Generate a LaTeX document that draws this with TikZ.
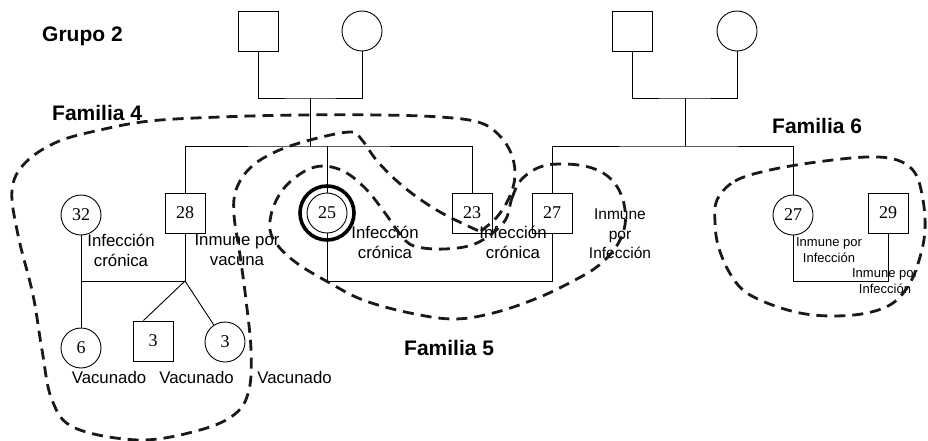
\documentclass[tikz,border=0pt]{standalone}
\usepackage{fontspec}
\setmainfont{Liberation Sans}
\newfontfamily\numfont{Liberation Serif}
\begin{document}
\begin{tikzpicture}[x=1pt,y={(0pt,-1pt)},
  sq/.style={draw, line width=0.9pt, minimum size=40pt, inner sep=0pt, font=\numfont\fontsize{18}{18}\selectfont},
  ci/.style={draw, circle, line width=0.9pt, minimum size=40pt, inner sep=0pt, font=\numfont\fontsize{18}{18}\selectfont},
  ring/.style={draw, circle, line width=3.6pt, minimum size=54pt, inner sep=0pt},
  lbl/.style={align=center, inner sep=0pt, font=\fontsize{16.8}{20}\selectfont},
  mlbl/.style={align=center, inner sep=0pt, font=\fontsize{15.5}{19.5}\selectfont},
  slbl/.style={align=center, inner sep=0pt, font=\fontsize{13}{16}\selectfont},
  ttl/.style={anchor=base west, inner sep=0pt, font=\bfseries\fontsize{21}{21}\selectfont},
  link/.style={line width=0.9pt},
  fam/.style={line width=2.8pt, dash pattern=on 11pt off 7pt, color=black!90}
]
\fill[white] (0,0) rectangle (928,441);
\useasboundingbox (0,0) rectangle (928,441);

% parents
\node[sq] (f1) at (258,31) {};
\node[ci] (m1) at (362,31) {};
\node[sq] (f2) at (632,31) {};
\node[ci] (m2) at (737,31) {};

% generation 2
\node[ci] (c32) at (81,215) {32};
\node[sq] (s28) at (185,213) {28};
\node[ring] (c25o) at (327,213) {};
\node[ci] (c25) at (327,213) {25};
\node[sq] (s23) at (472,213) {23};
\node[sq] (s27m) at (552,213) {27};
\node[ci] (c27r) at (793,215) {27};
\node[sq] (s29) at (888,213) {29};

% generation 3
\node[ci] (c6) at (81,348) {6};
\node[sq] (s3) at (153,341) {3};
\node[ci] (c3) at (225,342) {3};

% junctions
\coordinate (j1) at (310,98);
\coordinate (sb1) at (310,146);
\coordinate (j4) at (685,98);
\coordinate (sb2) at (685,146);
\coordinate (j2) at (185,281);
\coordinate (j3) at (552,281);
\coordinate (j5) at (888,281);

% connectors
\draw[link] (f1.south) |- (j1) -| (m1.south);
\draw[link] (j1) -- (sb1);
\draw[link] (s28.north) |- (sb1) -| (s23.north);
\draw[link] (c25o.north |- sb1) -- (c25.north);
\draw[link] (f2.south) |- (j4) -| (m2.south);
\draw[link] (j4) -- (sb2);
\draw[link] (s27m.north) |- (sb2) -| (c27r.north);
\draw[link] (c32.south) -- (c6.north);
\draw[link] (c32.south |- j2) -- (j2) -- (s28.south);
\draw[link] (j2) -- (s3.115);
\draw[link] (j2) -- (c3);
\draw[link] (c25.south) |- (j3) -- (s27m.south);
\draw[link] (c27r.south) |- (j5) -- (s29.south);

% labels
\node[ttl] (g2) at (42,42) {Grupo 2};
\node[ttl] (fa4) at (52,121) {Familia 4};
\node[ttl] (fa6) at (772,133) {Familia 6};
\node[ttl] (fa5) at (404,355) {Familia 5};

\node[lbl] (l32) at (121,250) {Infección\\crónica};
\node[lbl] (l28) at (237,250) {Inmune por\\vacuna};
\node[lbl] (l25) at (385,242) {Infección\\crónica};
\node[lbl] (l23) at (513,242) {Infección\\crónica};
\node[mlbl] (l27m) at (620,234) {Inmune\\por\\Infección};
\node[slbl] (l27r) at (829,250) {Inmune por\\Infección};
\node[slbl] (l29) at (885,281) {Inmune por\\Infección};
\node[lbl] (v1) at (109,377) {Vacunado};
\node[lbl] (v2) at (196.5,377) {Vacunado};
\node[lbl] (v3) at (294.5,377) {Vacunado};

% family outlines
\draw[fam] plot[smooth, tension=0.6] coordinates {(481,231) (497,217) (509,198) (515,176) (511,153) (498,134) (478,122) (440,117) (380,115) (300,115) (220,117) (150,121) (100,130) (57,142) (25,163) (12,190) (18,235) (33,295) (42,350) (52,400) (75,428) (140,440) (200,430) (235,414) (249,390) (251,350) (246,300) (240,255) (234,215) (236,190) (250,168) (275,152) (310,140) (350,132) (362,140) (378,162) (405,188) (440,212) (481,232)};
\draw[fam] plot[smooth cycle, tension=0.6] coordinates {(504,222) (512,198) (521,180) (540,167) (565,164) (592,168) (612,180) (623,200) (625,225) (616,247) (598,266) (575,280) (540,297) (497,312) (455,319) (410,313) (363,300) (328,282) (298,264) (279,247) (270,230) (273,208) (285,187) (305,171) (324,166) (345,172) (366,189) (385,213) (400,234) (414,246) (445,249) (477,243)};
\draw[fam] plot[smooth cycle, tension=0.6] coordinates {(717,200) (735,181) (770,170) (817,162) (867,157) (897,160) (915,173) (923,200) (925,230) (920,257) (910,283) (893,303) (867,313) (833,316) (800,313) (767,303) (743,290) (728,270) (718,245) (715,222)};
\end{tikzpicture}
\end{document}
